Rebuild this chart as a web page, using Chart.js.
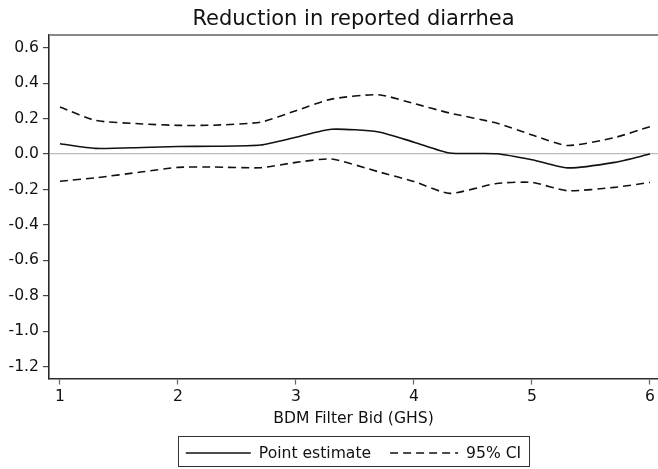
<!DOCTYPE html>
<html>
<head>
<meta charset="utf-8">
<script src="https://cdn.jsdelivr.net/npm/chart.js@4"></script>
<style>
  html, body { margin: 0; padding: 0; background: #fff; }
  #box { width: 658px; height: 469px; }
</style>
</head>
<body>
<div id="box"><canvas id="myChart" width="658" height="469"></canvas></div>
<script>
//-----data-------
const bids = [1, 1.3, 1.7, 2, 2.3, 2.7, 3, 3.3, 3.7, 4, 4.3, 4.7, 5, 5.3, 5.7, 6];
const pointEst = [0.058, 0.032, 0.037, 0.043, 0.044, 0.051, 0.095, 0.14, 0.125, 0.067, 0.006, 0.002, -0.032, -0.078, -0.047, 0.0];
const ciUpper = [0.266, 0.19, 0.17, 0.162, 0.163, 0.18, 0.245, 0.31, 0.335, 0.285, 0.232, 0.175, 0.108, 0.048, 0.093, 0.155];
const ciLower = [-0.153, -0.134, -0.1, -0.075, -0.073, -0.077, -0.047, -0.028, -0.1, -0.155, -0.222, -0.166, -0.16, -0.207, -0.188, -0.16];
const xTicks = [1, 2, 3, 4, 5, 6];
const yTicks = [-1.2, -1.0, -0.8, -0.6, -0.4, -0.2, 0.0, 0.2, 0.4, 0.6];
const titleText = 'Reduction in reported diarrhea';
const xTitle = 'BDM Filter Bid (GHS)';

const FONT = '"DejaVu Sans", "Liberation Sans", Arial, sans-serif';

const toXY = arr => arr.map((v, i) => ({ x: bids[i], y: v }));

// title, top frame line and boxed legend
const extras = {
    id: 'extras',
    beforeDatasetsDraw(chart) {
        const { ctx, chartArea } = chart;
        ctx.save();
        ctx.strokeStyle = '#888';
        ctx.lineWidth = 2;
        ctx.beginPath();
        ctx.moveTo(chartArea.left, chartArea.top);
        ctx.lineTo(chartArea.right, chartArea.top);
        ctx.stroke();
        ctx.restore();
    },
    afterDraw(chart) {
        const { ctx, chartArea } = chart;
        const cx = (chartArea.left + chartArea.right) / 2;
        ctx.save();
        ctx.fillStyle = '#111';
        ctx.font = '21px ' + FONT;
        ctx.textAlign = 'center';
        ctx.textBaseline = 'alphabetic';
        ctx.fillText(titleText, cx, 25);

        // legend
        ctx.font = '15.6px ' + FONT;
        const sets = chart.data.datasets.filter(d => !d.hideInLegend);
        const lineLen = [65, 68];
        const pad = 8, gap = 8, between = 19;
        let total = pad * 2;
        sets.forEach((d, i) => {
            total += lineLen[i] + gap + ctx.measureText(d.label).width;
            if (i < sets.length - 1) total += between;
        });
        const top = 436, bottom = 466, midY = 453;
        let x = cx - total / 2;
        ctx.strokeStyle = '#333';
        ctx.lineWidth = 1;
        ctx.strokeRect(Math.round(x) + 0.5, top + 0.5, Math.round(total), bottom - top);
        x += pad;
        ctx.textAlign = 'left';
        ctx.textBaseline = 'middle';
        sets.forEach((d, i) => {
            ctx.strokeStyle = d.borderColor;
            ctx.lineWidth = d.borderWidth;
            ctx.setLineDash(d.borderDash || []);
            ctx.beginPath();
            ctx.moveTo(x, midY);
            ctx.lineTo(x + lineLen[i], midY);
            ctx.stroke();
            ctx.setLineDash([]);
            x += lineLen[i] + gap;
            ctx.fillText(d.label, x, midY + 1);
            x += ctx.measureText(d.label).width + between;
        });
        ctx.restore();
    }
};

const ctx = document.getElementById('myChart').getContext('2d');
const config = {
    type: 'line',
    data: {
        datasets: [
            {
                label: 'Point estimate',
                data: toXY(pointEst),
                borderColor: '#111',
                borderWidth: 1.6,
                pointRadius: 0,
                tension: 0.2,
            },
            {
                label: '95% CI',
                data: toXY(ciUpper),
                borderColor: '#111',
                borderWidth: 1.6,
                borderDash: [8, 5],
                pointRadius: 0,
                tension: 0.2,
            },
            {
                label: '95% CI lower',
                hideInLegend: true,
                data: toXY(ciLower),
                borderColor: '#111',
                borderWidth: 1.6,
                borderDash: [8, 5],
                pointRadius: 0,
                tension: 0.2,
            },
        ],
    },
    options: {
        responsive: false,
        animation: false,
        layout: { padding: { top: 35, right: 0, left: 0, bottom: 41 } },
        plugins: {
            legend: { display: false },
            title: { display: false },
            tooltip: { enabled: false },
        },
        scales: {
            x: {
                type: 'linear',
                min: 0.907,
                max: 6.068,
                afterBuildTicks: s => { s.ticks = xTicks.map(v => ({ value: v })); },
                ticks: {
                    color: '#111',
                    font: { family: FONT, size: 15.6 },
                    padding: 3,
                    maxRotation: 0,
                    callback: v => String(v),
                },
                grid: {
                    drawOnChartArea: false,
                    tickLength: 6,
                    tickColor: '#666',
                    tickWidth: 1.2,
                },
                border: { color: '#2a2a2a', width: 1.6 },
                title: {
                    display: true,
                    text: xTitle,
                    color: '#111',
                    font: { family: FONT, size: 15.6 },
                    padding: { top: 0, bottom: 0 },
                },
            },
            y: {
                min: -1.267,
                max: 0.672,
                afterBuildTicks: s => { s.ticks = yTicks.map(v => ({ value: v })); },
                afterFit: s => { s.width = 49; },
                ticks: {
                    color: '#111',
                    font: { family: FONT, size: 15.6 },
                    padding: 4,
                    callback: v => Number(v).toFixed(1),
                },
                grid: {
                    color: c => (c.tick && c.tick.value === 0 ? '#bdbdbd' : 'rgba(0,0,0,0)'),
                    lineWidth: 1.2,
                    tickLength: 6,
                    tickColor: '#444',
                    tickWidth: 1.2,
                },
                border: { color: '#2a2a2a', width: 1.6 },
            },
        },
    },
    plugins: [extras],
};

const myChart = new Chart(ctx, config);
</script>
</body>
</html>
